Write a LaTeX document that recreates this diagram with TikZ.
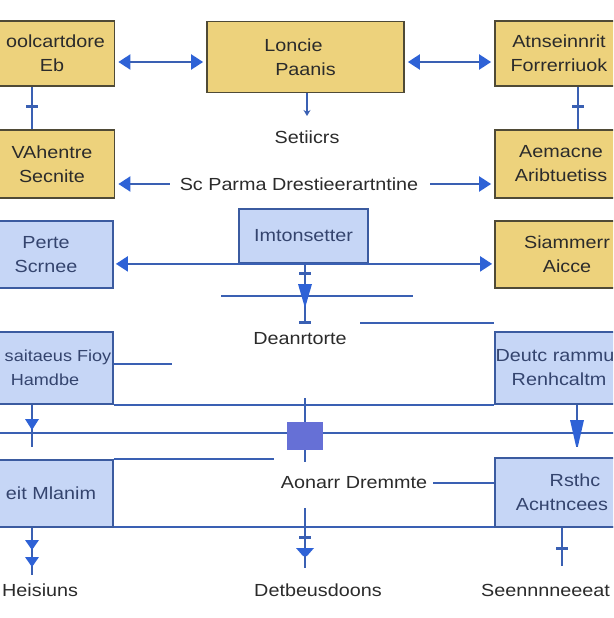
\documentclass[tikz,border=0pt]{standalone}
\usepackage{fontspec}
\setmainfont[FakeStretch=1.13]{Liberation Sans}
\usetikzlibrary{arrows.meta,calc}
\definecolor{ybox}{HTML}{EDD27C}
\definecolor{yedge}{HTML}{4F4A36}
\definecolor{bfill}{HTML}{C6D6F6}
\definecolor{bedge}{HTML}{3B5BA0}
\definecolor{lblue}{HTML}{3A60B3}
\definecolor{tipblue}{HTML}{2E62D6}
\definecolor{txt}{HTML}{2B2B2B}
\definecolor{btxt}{HTML}{34446E}
\definecolor{sqc}{HTML}{6670D6}
\newcommand{\mytick}[2]{\draw[tickst] ({#1-6},#2) -- ({#1+6},#2);}
\newcommand{\mytri}[3]{\fill[tipblue] ({#1-7},#2) -- ({#1+7},#2) -- (#1,#3) -- cycle;}
\newcommand{\padr}[1]{\hspace*{#1}}
\begin{document}
\begin{tikzpicture}[x=1pt,y=-1pt,
  ybx/.style={draw=yedge,fill=ybox,line width=1.8pt,inner sep=0pt,align=center,text=txt,font=\fontsize{17.5}{24}\selectfont},
  bbx/.style={draw=bedge,fill=bfill,line width=1.8pt,inner sep=0pt,align=center,text=btxt,font=\fontsize{17.5}{24}\selectfont},
  lbl/.style={inner sep=0pt,text=txt,font=\fontsize{17.5}{20}\selectfont},
  ln/.style={draw=lblue,line width=2.2pt},
  tickst/.style={draw=lblue,line width=3pt},
  tipr/.style={ln,-{Triangle[length=12pt,width=15pt,color=tipblue]}},
  arrb/.style={ln,{Triangle[length=12pt,width=15pt,color=tipblue]}-{Triangle[length=12pt,width=15pt,color=tipblue]}}
]
\useasboundingbox (0,0) rectangle (613,618);
\clip (0,0) rectangle (613,618);
\fill[white] (0,0) rectangle (613,618);

% full-width rails
\coordinate (rl1) at (-5,433);
\coordinate (rr1) at (620,433);
\draw[ln] (rl1) -- (rr1);
\coordinate (rl2) at (-5,527);
\coordinate (rr2) at (620,527);
\draw[ln] (rl2) -- (rr2);

% boxes
\node[ybx,minimum width=125pt,minimum height=65pt] (A) at (52,53.5) {\padr{7pt}oolcartdore\\Eb};
\node[ybx,minimum width=197pt,minimum height=71pt] (B) at (305.5,57) {Loncie\hspace*{24pt}\\Paanis};
\node[ybx,minimum width=144pt,minimum height=65pt] (C) at (567,53.5) {Atnseinnrit\padr{16pt}\\Forrerriuok\padr{16pt}};
\node[ybx,minimum width=125pt,minimum height=68pt] (D) at (52,164) {VAhentre\\Secnite};
\node[ybx,minimum width=144pt,minimum height=68pt] (E) at (567,164) {Aemacne\padr{12pt}\\Aribtuetiss\padr{12pt}};
\node[bbx,minimum width=134pt,minimum height=67pt] (F) at (46,254.5) {Pertе\\Scrnee};
\node[bbx,minimum width=129pt,minimum height=54pt] (G) at (303.5,236) {Imtonsetter};
\node[ybx,minimum width=144pt,minimum height=67pt] (H) at (567,254.5) {Siammerr\\Aicce};
\node[bbx,minimum width=150pt,minimum height=72pt,font=\fontsize{16}{24}\selectfont] (I) at (38,368) {\padr{40pt}saitaeus Fioy\\\padr{14pt}Hamdbe};
\node[bbx,minimum width=150pt,minimum height=72pt] (J) at (570,368) {Deutc rammu\padr{30pt}\\Renhcaltm\padr{22pt}};
\node[bbx,minimum width=136pt,minimum height=67pt] (K) at (45,493.5) {\padr{12pt}eit Mlanim};
\node[bbx,minimum width=160pt,minimum height=69pt] (L) at (575,492.5) {Rsthc\\Acнtncees\padr{26pt}};

% labels
\node[lbl] (s1) at (307,137) {Setiicrs};
\node[lbl] (mid) at (299,184) {Sc Parma Drestieerartntine};
\node[lbl] (dea) at (300,339) {Deanrtorte};
\node[lbl] (aon) at (354,483) {Aonarr Dremmte};
\node[lbl,anchor=west] (b1) at (2,590) {Heisiuns};
\node[lbl] (b2) at (318,590) {Detbeusdoons};
\node[lbl,anchor=east] (b3) at (610,590) {Seennnneeeat};

% top row arrows
\draw[arrb,shorten <=3pt,shorten >=3pt] ([yshift=-8.5pt]A.east) -- ([yshift=-5pt]B.west);
\draw[arrb,shorten <=3pt,shorten >=3pt] ([yshift=-5pt]B.east) -- ([yshift=-8.5pt]C.west);
\draw[ln] ([xshift=-20pt]A.south) -- ([xshift=-20pt]D.north);
\mytick{32}{106}
\draw[ln] ([xshift=11pt]C.south) -- ([xshift=11pt]E.north);
\mytick{578}{106}
\coordinate (bd) at (307,116);
\draw[ln,line width=2pt,-{Stealth[length=6pt,width=7pt]}] ([xshift=1.5pt]B.south) -- (bd);

% second row arrows
\draw[tipr,shorten <=10pt,shorten >=3pt] (mid.west) -- (mid.west -| D.east);
\draw[tipr,shorten <=12pt,shorten >=3pt] (mid.east) -- (mid.east -| E.west);

% third row
\draw[tipr,shorten >=2pt] (G.south) -- (G.south -| F.east);
\draw[tipr,shorten >=2pt] (G.south) -- (G.south -| H.west);
\coordinate (h1) at (221,296);
\coordinate (h2) at (413,296);
\draw[ln] (h1) -- (h2);
\coordinate (h3) at (360,323);
\draw[ln] (h3) -- (h3 -| J.west);
\coordinate (gd) at (305,322);
\draw[ln,line width=2pt] ([xshift=1.5pt]G.south) -- (gd);
\mytick{305}{273}
\mytri{305}{284}{308}
\mytick{305}{322}

% fourth row
\coordinate (is) at (172,364);
\draw[ln] (is -| I.east) -- (is);
\draw[ln] (I.south east) -- (J.south west);
\coordinate (id) at (32,447);
\draw[ln] (I.south -| id) -- (id);
\mytri{32}{419}{430}
\coordinate (jd) at (577,447);
\draw[ln] (J.south -| jd) -- (jd);
\fill[tipblue] (570,420) -- (584,420) -- (578,446) -- (576,446) -- cycle;
\coordinate (ct) at (305,398);
\coordinate (cb) at (305,462);
\draw[ln] (ct) -- (cb);
\node[fill=sqc,minimum width=36pt,minimum height=28pt,inner sep=0pt] (sq) at (305,436) {};
\coordinate (k1) at (274,460);
\draw[ln] (K.north east) -- (K.north east -| k1);

% fifth row
\draw[ln] (aon.east) ++(6,0) -- (aon.east -| L.west);
\coordinate (ub) at (305,508);
\coordinate (ue) at (305,568);
\draw[ln] (ub) -- (ue);
\mytick{305}{537}
\fill[tipblue] (296,548) -- (314,548) -- (307,556) -- (303,556) -- cycle;
\coordinate (kd) at (32,575);
\draw[ln] ([xshift=-13pt]K.south) -- (kd);
\mytri{32}{540}{550}
\mytri{32}{557}{567}
\coordinate (ld) at (562,566);
\draw[ln] ([xshift=-13pt]L.south) -- (ld);
\mytick{562}{548}
\end{tikzpicture}
\end{document}
